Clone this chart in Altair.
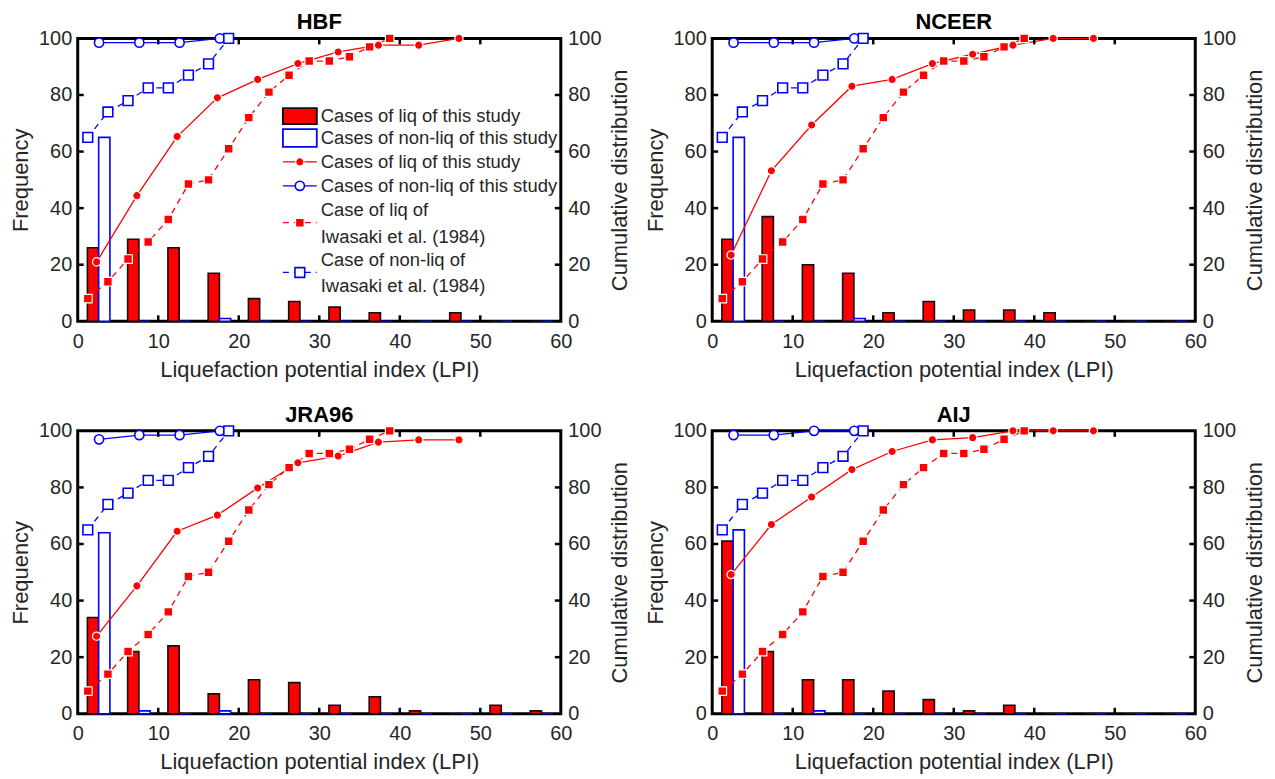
import altair as alt
import pandas as pd

# ---------------- data ----------------
bin_left = [0, 5, 10, 15, 20, 25, 30, 35, 40, 45, 50, 55]

# frequency of cases per LPI bin (this study)
hbf_liq = [26, 29, 26, 17, 8, 7, 5, 3, 0, 3, 0, 0]
hbf_non = [65, 0, 0, 1, 0, 0, 0, 0, 0, 0, 0, 0]
nceer_liq = [29, 37, 20, 17, 3, 7, 4, 4, 3, 0, 0, 0]
nceer_non = [65, 0, 0, 1, 0, 0, 0, 0, 0, 0, 0, 0]
jra_liq = [34, 22, 24, 7, 12, 11, 3, 6, 1, 0, 3, 1]
jra_non = [64, 1, 0, 1, 0, 0, 0, 0, 0, 0, 0, 0]
aij_liq = [61, 22, 12, 12, 8, 5, 1, 3, 0, 0, 0, 0]
aij_non = [65, 0, 1, 0, 0, 0, 0, 0, 0, 0, 0, 0]

# cumulative distribution (%) of this study
cum_x_liq = [2.35, 7.35, 12.35, 17.35, 22.35, 27.35, 32.35, 37.35, 42.35, 47.35]
cum_x_non = [2.65, 7.65, 12.65, 17.65]
hbf_cum_liq = [21.0, 44.4, 65.3, 79.0, 85.5, 91.1, 95.2, 97.6, 97.6, 100.0]
hbf_cum_non = [98.5, 98.5, 98.5, 100.0]
nceer_cum_liq = [23.4, 53.2, 69.4, 83.1, 85.5, 91.1, 94.4, 97.6, 100.0, 100.0]
nceer_cum_non = [98.5, 98.5, 98.5, 100.0]
jra_cum_liq = [27.4, 45.2, 64.5, 70.2, 79.8, 88.7, 91.1, 96.0, 96.8, 96.8]
jra_cum_non = [97.0, 98.5, 98.5, 100.0]
aij_cum_liq = [49.2, 66.9, 76.6, 86.3, 92.7, 96.8, 97.6, 100.0, 100.0, 100.0]
aij_cum_non = [98.5, 98.5, 100.0, 100.0]

# Iwasaki et al. (1984) cumulative distribution (%)
iw_x_liq = [1.25, 3.75, 6.25, 8.75, 11.25, 13.75, 16.25, 18.75, 21.25, 23.75,
            26.25, 28.75, 31.25, 33.75, 36.25, 38.75]
iw_liq = [8, 14, 22, 28, 36, 48.5, 50, 61, 72, 81, 87, 92, 92, 93.5, 97, 100]
iw_x_non = [1.25, 3.75, 6.25, 8.75, 11.25, 13.75, 16.25, 18.75]
iw_non = [65, 74, 78, 82.5, 82.5, 87, 91, 100]

x_ticks = [10, 20, 30, 40, 50]
y_ticks = [20, 40, 60, 80]

panel_titles = ["HBF", "NCEER", "JRA96", "AIJ"]
legend_labels = [
    ["Cases of liq of this study"],
    ["Cases of non-liq of this study"],
    ["Cases of liq of this study"],
    ["Cases of non-liq of this study"],
    ["Case of liq of", "Iwasaki et al. (1984)"],
    ["Case of non-liq of", "Iwasaki et al. (1984)"],
]

# ---------------- style ----------------
W, H = 485, 284
RED, BLUE = "#FF0000", "#0000FF"
FONT = "Liberation Sans"
TXT = "#262626"

XS = alt.Scale(domain=[0, 60], nice=False, zero=False)
YS = alt.Scale(domain=[0, 100], nice=False)


def yfield(name, axis=None):
    if axis is None:
        return alt.Y(f"{name}:Q", scale=YS, axis=None)
    return alt.Y(f"{name}:Q", scale=YS, axis=axis)


def panel(title, liq, non, cum_liq, cum_non, legend=False):
    bars_liq = pd.DataFrame({"a": [b + 1.2 for b in bin_left],
                             "b": [b + 2.6 for b in bin_left], "n": liq})
    bars_non = pd.DataFrame({"a": [b + 2.6 for b in bin_left],
                             "b": [b + 4.0 for b in bin_left], "n": non})
    cl = pd.DataFrame({"x": cum_x_liq, "v": cum_liq})
    cn = pd.DataFrame({"x": cum_x_non, "v": cum_non})
    il = pd.DataFrame({"x": iw_x_liq, "v": iw_liq})
    inn = pd.DataFrame({"x": iw_x_non, "v": iw_non})
    xt = pd.DataFrame({"t": x_ticks})
    yt = pd.DataFrame({"t": y_ticks})

    xaxis = alt.Axis(title="Liquefaction potential index (LPI)",
                     values=[0, 10, 20, 30, 40, 50, 60], labelPadding=10,
                     titlePadding=8, labelFlush=False, labelOverlap=False)
    left_axis = alt.Axis(title="Frequency", orient="left",
                         values=[0, 20, 40, 60, 80, 100],
                         labelPadding=6, titlePadding=6)
    right_axis = alt.Axis(title="Cumulative distribution", orient="right",
                          values=[0, 20, 40, 60, 80, 100],
                          labelPadding=7, titlePadding=9,
                          titleAngle=270, titleBaseline="top")

    b1 = alt.Chart(bars_liq).mark_rect(fill=RED, stroke="#111111", strokeWidth=1.6).encode(
        x=alt.X("a:Q", scale=XS, axis=xaxis), x2="b:Q",
        y=yfield("n", left_axis), y2=alt.datum(0))
    b2 = alt.Chart(bars_non).mark_rect(fill="white", stroke=BLUE, strokeWidth=1.6).encode(
        x=alt.X("a:Q", scale=XS), x2="b:Q",
        y=yfield("n"), y2=alt.datum(0))

    l1 = alt.Chart(cl).mark_line(color=RED, strokeWidth=1.3).encode(
        x=alt.X("x:Q", scale=XS), y=yfield("v", right_axis))
    p1 = alt.Chart(cl).mark_point(shape="circle", filled=True, fill=RED, stroke="white",
                                  strokeWidth=1.2, size=70, opacity=1).encode(
        x=alt.X("x:Q", scale=XS), y=yfield("v"))
    l2 = alt.Chart(cn).mark_line(color=BLUE, strokeWidth=1.3).encode(
        x=alt.X("x:Q", scale=XS), y=yfield("v"))
    p2 = alt.Chart(cn).mark_point(shape="circle", filled=True, fill="white", stroke=BLUE,
                                  strokeWidth=1.6, size=85, opacity=1).encode(
        x=alt.X("x:Q", scale=XS), y=yfield("v"))
    l3 = alt.Chart(il).mark_line(color=RED, strokeWidth=1.3, strokeDash=[6, 5]).encode(
        x=alt.X("x:Q", scale=XS), y=yfield("v"))
    p3 = alt.Chart(il).mark_point(shape="square", filled=True, fill=RED, stroke="white",
                                  strokeWidth=1.2, size=75, opacity=1).encode(
        x=alt.X("x:Q", scale=XS), y=yfield("v"))
    l4 = alt.Chart(inn).mark_line(color=BLUE, strokeWidth=1.3, strokeDash=[6, 5]).encode(
        x=alt.X("x:Q", scale=XS), y=yfield("v"))
    p4 = alt.Chart(inn).mark_point(shape="square", filled=True, fill="white", stroke=BLUE,
                                   strokeWidth=1.6, size=95, opacity=1).encode(
        x=alt.X("x:Q", scale=XS), y=yfield("v"))

    tk = dict(color="black", strokeWidth=2.5)
    t_bot = alt.Chart(xt).mark_rule(**tk).encode(
        x=alt.X("t:Q", scale=XS), y=alt.value(H), y2=alt.value(H - 6))
    t_top = alt.Chart(xt).mark_rule(**tk).encode(
        x=alt.X("t:Q", scale=XS), y=alt.value(0), y2=alt.value(6))
    t_left = alt.Chart(yt).mark_rule(**tk).encode(
        y=yfield("t"), x=alt.value(0), x2=alt.value(6))
    t_right = alt.Chart(yt).mark_rule(**tk).encode(
        y=yfield("t"), x=alt.value(W - 6), x2=alt.value(W))

    layers = [b1, b2, l1, l2, l3, l4, p1, p2, p3, p4, t_bot, t_top, t_left, t_right]

    if legend:
        one = pd.DataFrame({"k": [0]})
        gx0, gx1, gxc, tx = 206, 240, 223, 244
        rows = [78, 100, 124, 148, 185, 235]
        text_rows = [[78], [100], [124], [148], [172, 199], [223, 249]]
        # swatches
        layers.append(alt.Chart(one).mark_rect(fill=RED, stroke="#111111", strokeWidth=2).encode(
            x=alt.value(gx0), x2=alt.value(gx1), y=alt.value(rows[0] - 8), y2=alt.value(rows[0] + 8)))
        layers.append(alt.Chart(one).mark_rect(fill="white", stroke=BLUE, strokeWidth=1.8).encode(
            x=alt.value(gx0), x2=alt.value(gx1), y=alt.value(rows[1] - 9), y2=alt.value(rows[1] + 9)))
        # line glyphs
        for i, (col, dash) in enumerate([(RED, None), (BLUE, None), (RED, [6, 5]), (BLUE, [6, 5])]):
            yy = rows[2 + i]
            kw = dict(color=col, strokeWidth=1.3)
            if dash:
                kw["strokeDash"] = dash
            layers.append(alt.Chart(one).mark_rule(**kw).encode(
                x=alt.value(gx0), x2=alt.value(gx1), y=alt.value(yy)))
        layers.append(alt.Chart(one).mark_point(shape="circle", filled=True, fill=RED, stroke="white",
                                                strokeWidth=1.2, size=70, opacity=1).encode(
            x=alt.value(gxc), y=alt.value(rows[2])))
        layers.append(alt.Chart(one).mark_point(shape="circle", filled=True, fill="white", stroke=BLUE,
                                                strokeWidth=1.6, size=85, opacity=1).encode(
            x=alt.value(gxc), y=alt.value(rows[3])))
        layers.append(alt.Chart(one).mark_point(shape="square", filled=True, fill=RED, stroke="white",
                                                strokeWidth=1.2, size=75, opacity=1).encode(
            x=alt.value(gxc), y=alt.value(rows[4])))
        layers.append(alt.Chart(one).mark_point(shape="square", filled=True, fill="white", stroke=BLUE,
                                                strokeWidth=1.6, size=95, opacity=1).encode(
            x=alt.value(gxc), y=alt.value(rows[5])))
        for lab, ys in zip(legend_labels, text_rows):
            for line, yy in zip(lab, ys):
                layers.append(alt.Chart(one).mark_text(
                    text=line, align="left", baseline="middle", font=FONT,
                    fontSize=18.5, color=TXT).encode(x=alt.value(tx), y=alt.value(yy)))

    return alt.layer(*layers).resolve_scale(y="independent").properties(
        width=W, height=H,
        title=alt.TitleParams(title, fontSize=22, fontWeight="bold", font=FONT,
                              color="black", offset=-6))


p_hbf = panel(panel_titles[0], hbf_liq, hbf_non, hbf_cum_liq, hbf_cum_non, legend=True)
p_nceer = panel(panel_titles[1], nceer_liq, nceer_non, nceer_cum_liq, nceer_cum_non)
p_jra = panel(panel_titles[2], jra_liq, jra_non, jra_cum_liq, jra_cum_non)
p_aij = panel(panel_titles[3], aij_liq, aij_non, aij_cum_liq, aij_cum_non)

chart = alt.vconcat(
    alt.hconcat(p_hbf, p_nceer, spacing=10),
    alt.hconcat(p_jra, p_aij, spacing=10),
    spacing=20,
).properties(
    padding={"left": 0, "top": 0, "right": 0, "bottom": 0}, background="white"
).configure_view(
    stroke="black", strokeWidth=3
).configure_axis(
    labelFont=FONT, labelFontSize=20, labelColor=TXT,
    titleFont=FONT, titleFontSize=22, titleFontWeight="normal", titleColor=TXT,
    grid=False, ticks=False, domain=False
)

chart.save("out.html", embed_options={"renderer": "svg", "actions": False})
